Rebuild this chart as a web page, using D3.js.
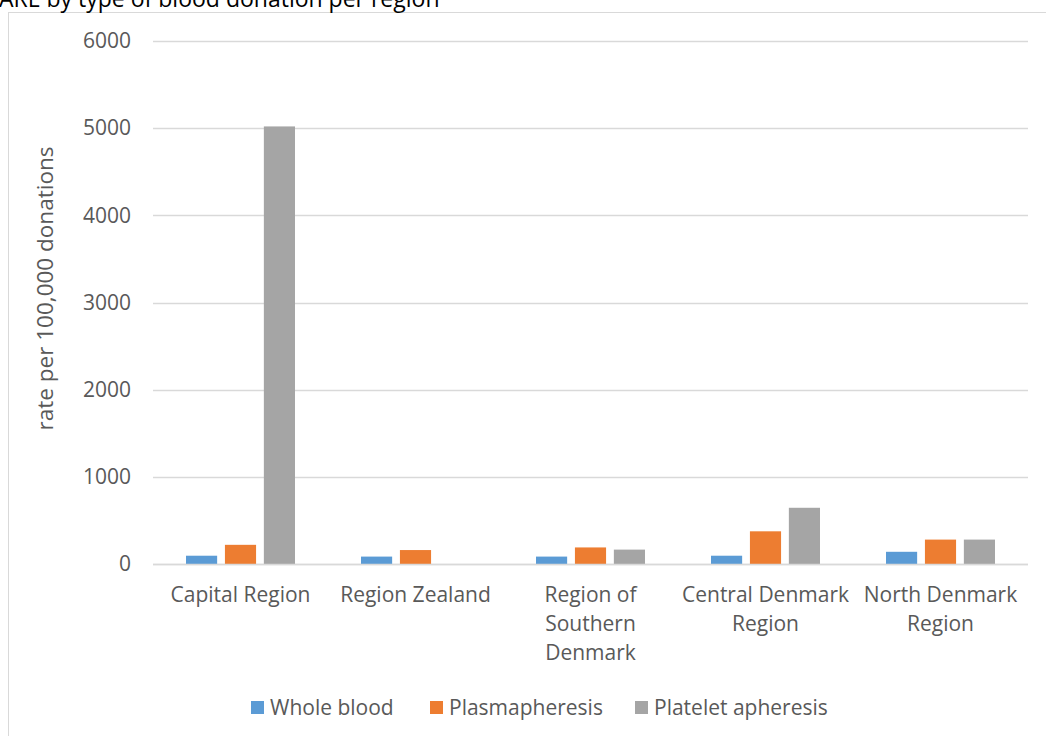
<!DOCTYPE html>
<html>
<head>
<meta charset="utf-8">
<script src="https://cdn.jsdelivr.net/npm/d3@7"></script>
<style>
  html, body { margin: 0; padding: 0; background: #fff; }
  svg { display: block; font-family: "Open Sans", "Liberation Sans", sans-serif; }
</style>
</head>
<body>
<svg id="chart" width="1046" height="736"></svg>
<script>
// Regions (category labels are wrapped onto several lines)
const regions = ["Capital Region", "Region Zealand", "Region of Southern Denmark", "Central Denmark Region", "North Denmark Region"];
const regionLines = [["Capital Region"], ["Region Zealand"], ["Region of", "Southern", "Denmark"], ["Central Denmark", "Region"], ["North Denmark", "Region"]];

// Donation types
const seriesNames = ["Whole blood", "Plasmapheresis", "Platelet apheresis"];
const seriesColors = ["#5B9BD5", "#ED7D31", "#A5A5A5"];

// Rate per 100,000 donations, one array per donation type (ordered as regions)
const wholeBlood = [95, 85, 85, 95, 140];
const plasmapheresis = [220, 160, 190, 375, 280];
const plateletApheresis = [5020, 0, 165, 645, 280];

const yTicks = [0, 1000, 2000, 3000, 4000, 5000, 6000];

const series = [wholeBlood, plasmapheresis, plateletApheresis];

const svg = d3.select("#chart");

// Chart area frame
svg.append("rect")
  .attr("x", 8.5).attr("y", 12.5)
  .attr("width", 1100).attr("height", 800)
  .attr("fill", "none").attr("stroke", "#d9d9d9").attr("stroke-width", 1);

// Title (runs off the top-left edge)
svg.append("text")
  .attr("x", -1).attr("y", 7)
  .attr("font-size", 23).attr("fill", "#000")
  .text("ARE by type of blood donation per region");

const plot = { left: 153, right: 1028, top: 41, bottom: 564 };

const x0 = d3.scaleBand()
  .domain(regions)
  .range([plot.left, plot.right]);

const x1 = d3.scaleBand()
  .domain(d3.range(seriesNames.length))
  .range([0, 109])
  .paddingInner(0.2);

const y = d3.scaleLinear()
  .domain([0, 6000])
  .range([plot.bottom, plot.top]);

// Gridlines
svg.append("g")
  .selectAll("line")
  .data(yTicks)
  .join("line")
  .attr("x1", plot.left).attr("x2", plot.right)
  .attr("y1", d => Math.round(y(d)) + 0.5).attr("y2", d => Math.round(y(d)) + 0.5)
  .attr("stroke", "#d9d9d9").attr("stroke-width", 1.3);

// Y axis tick labels
const yAxis = d3.axisLeft(y).tickValues(yTicks).tickSize(0).tickPadding(0).tickFormat(d3.format("d"));
const yg = svg.append("g").attr("transform", `translate(131,0)`).call(yAxis);
yg.select(".domain").remove();
yg.selectAll("text")
  .attr("font-family", "Open Sans, Liberation Sans, sans-serif")
  .attr("font-size", 21).attr("fill", "#595959");

// Y axis title
svg.append("text")
  .attr("transform", `translate(53,${(plot.top + plot.bottom) / 2 - 14}) rotate(-90)`)
  .attr("text-anchor", "middle")
  .attr("font-size", 22.5).attr("fill", "#595959")
  .text("rate per 100,000 donations");

// Bars
const groups = svg.append("g")
  .selectAll("g")
  .data(regions)
  .join("g")
  .attr("transform", d => `translate(${x0(d) + (x0.bandwidth() - 109) / 2},0)`);

groups.selectAll("rect")
  .data((d, i) => series.map((s, k) => ({ k, v: s[i] })))
  .join("rect")
  .attr("x", d => x1(d.k))
  .attr("width", x1.bandwidth())
  .attr("y", d => y(d.v))
  .attr("height", d => y(0) - y(d.v))
  .attr("fill", d => seriesColors[d.k]);

// Baseline
svg.append("line")
  .attr("x1", plot.left).attr("x2", plot.right)
  .attr("y1", y(0) + 0.5).attr("y2", y(0) + 0.5)
  .attr("stroke", "#d9d9d9").attr("stroke-width", 1.5);

// Category labels
const catLabels = svg.append("g")
  .selectAll("text")
  .data(regions)
  .join("text")
  .attr("x", d => x0(d) + x0.bandwidth() / 2)
  .attr("y", 602)
  .attr("text-anchor", "middle")
  .attr("font-size", 21).attr("fill", "#595959");

catLabels.selectAll("tspan")
  .data((d, i) => regionLines[i])
  .join("tspan")
  .attr("x", function () { return d3.select(this.parentNode).attr("x"); })
  .attr("dy", (d, i) => i === 0 ? 0 : 29)
  .text(d => d);

// Legend
const legendX = [251, 430, 635];
const legend = svg.append("g")
  .selectAll("g")
  .data(seriesNames)
  .join("g")
  .attr("transform", (d, i) => `translate(${legendX[i]},707)`);

legend.append("rect")
  .attr("x", 0).attr("y", -6)
  .attr("width", 13).attr("height", 13)
  .attr("fill", (d, i) => seriesColors[i]);

legend.append("text")
  .attr("x", 19).attr("y", 8)
  .attr("font-size", 21).attr("fill", "#595959")
  .text(d => d);
</script>
</body>
</html>
